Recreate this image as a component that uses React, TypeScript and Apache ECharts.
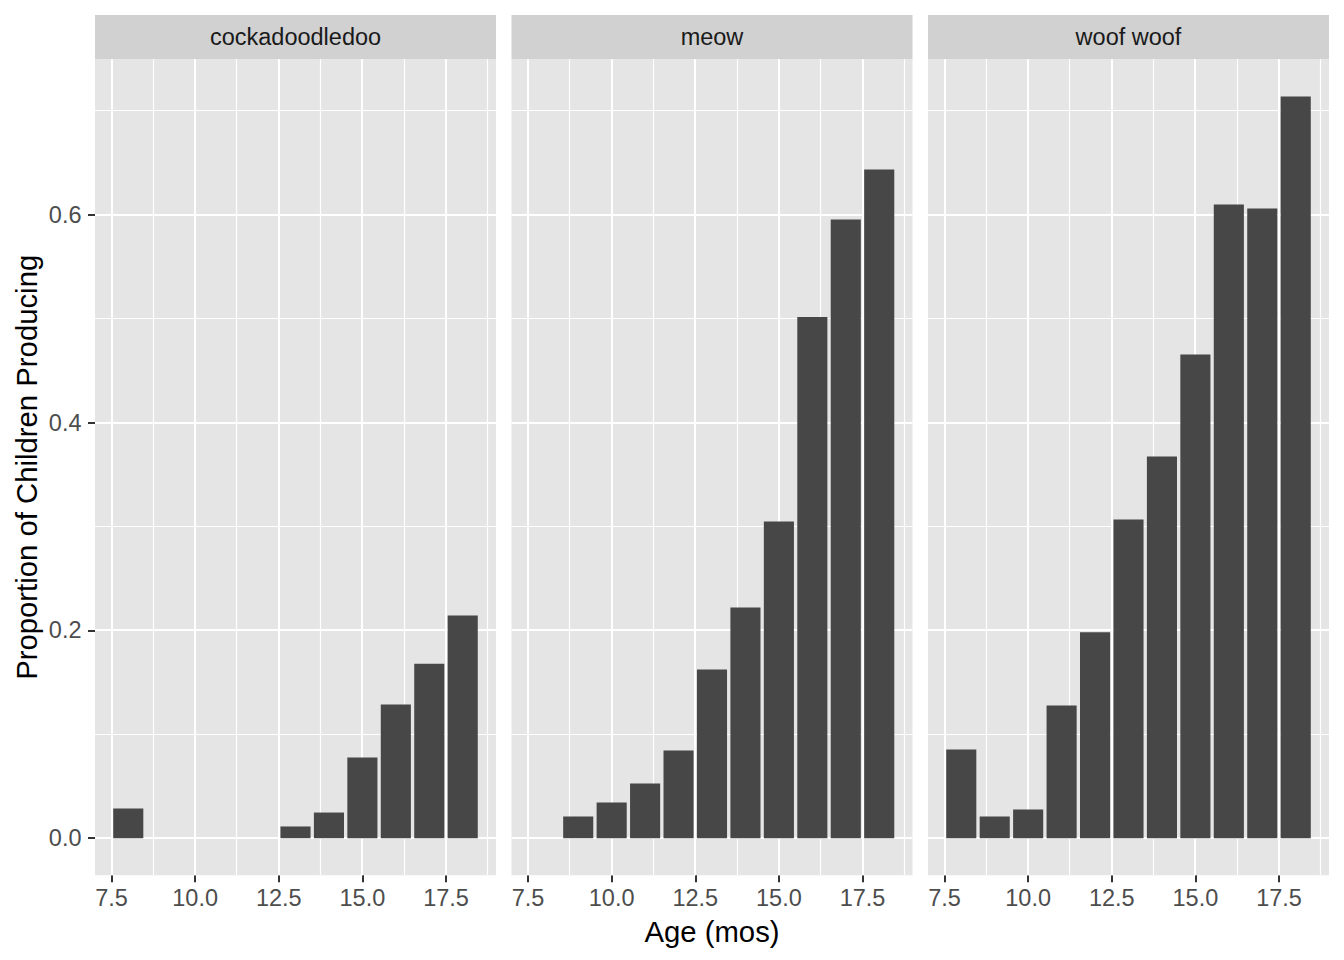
import React, { useEffect, useRef } from "react";
import * as echarts from "echarts";

const facets = ["cockadoodledoo", "meow", "woof woof"];
const ages = [8, 9, 10, 11, 12, 13, 14, 15, 16, 17, 18];
const cockadoodledoo = [0.0286, null, null, null, null, 0.0113, 0.0247, 0.0777, 0.1287, 0.168, 0.2143];
const meow = [null, 0.0209, 0.0344, 0.0526, 0.0845, 0.1624, 0.222, 0.3048, 0.5017, 0.5955, 0.6436];
const woofWoof = [0.0854, 0.0209, 0.0276, 0.1277, 0.1983, 0.3067, 0.3674, 0.4655, 0.6099, 0.606, 0.7139];
const facetValues = [cockadoodledoo, meow, woofWoof];

const xMajorTicks = [7.5, 10, 12.5, 15, 17.5];
const xMinorTicks = [8.75, 11.25, 13.75, 16.25, 18.75];
const yMajorTicks = [0, 0.2, 0.4, 0.6];
const yMinorTicks = [0.1, 0.3, 0.5, 0.7];
const barWidth = 0.9;

const FONT = "'Liberation Sans', Arial, Helvetica, sans-serif";
const PANEL_BG = "#E5E5E5";
const STRIP_BG = "#D1D1D1";
const BAR_FILL = "#474747";

// ggplot-style 5% expansion of the data range
const xLo = ages[0] - barWidth / 2;
const xHi = ages[ages.length - 1] + barWidth / 2;
const xMin = xLo - 0.05 * (xHi - xLo);
const xMax = xHi + 0.05 * (xHi - xLo);
const allVals = facetValues.flat().filter((v) => v != null) as number[];
const yTop = Math.max(...allVals);
const yMin = 0 - 0.05 * yTop;
const yMax = yTop + 0.05 * yTop;

const panelLefts = [95, 511.5, 928];
const panelWidth = 401;
const panelTop = 59.3;
const panelHeight = 816;
const stripTop = 15;

export default function App() {
  const ref = useRef<HTMLDivElement>(null);
  useEffect(() => {
    document.body.style.margin = "0";
    if (!ref.current) return;
    const chart = echarts.init(ref.current, null, { renderer: "svg" });

    const gridData: number[][] = [];
    xMinorTicks.forEach((v) => gridData.push([0, v, 0]));
    yMinorTicks.forEach((v) => gridData.push([1, v, 0]));
    xMajorTicks.forEach((v) => gridData.push([0, v, 1]));
    yMajorTicks.forEach((v) => gridData.push([1, v, 1]));

    const grids = panelLefts.map((left) => ({
      left,
      top: panelTop,
      width: panelWidth,
      height: panelHeight,
      show: true,
      backgroundColor: PANEL_BG,
      borderWidth: 0,
      containLabel: false,
    }));

    const xAxes = facets.map((_, i) => ({
      type: "value",
      gridIndex: i,
      position: "bottom",
      min: xMin,
      max: xMax,
      axisLine: { show: false, onZero: false },
      splitLine: { show: false },
      axisTick: {
        show: true,
        customValues: xMajorTicks,
        length: 7,
        lineStyle: { color: "#333333", width: 2 },
      },
      axisLabel: {
        show: true,
        customValues: xMajorTicks,
        formatter: (v: number) => v.toFixed(1),
        color: "#4D4D4D",
        fontSize: 23.5,
        fontFamily: FONT,
        margin: 11,
      },
      name: i === 1 ? "Age (mos)" : "",
      nameLocation: "middle",
      nameGap: 42,
      nameTextStyle: { color: "#000000", fontSize: 29.3, fontFamily: FONT },
    }));

    const yAxes = facets.map((_, i) => ({
      type: "value",
      gridIndex: i,
      position: "left",
      min: yMin,
      max: yMax,
      axisLine: { show: false, onZero: false },
      splitLine: { show: false },
      axisTick: {
        show: i === 0,
        customValues: yMajorTicks,
        length: 7,
        lineStyle: { color: "#333333", width: 2 },
      },
      axisLabel: {
        show: i === 0,
        customValues: yMajorTicks,
        formatter: (v: number) => v.toFixed(1),
        color: "#4D4D4D",
        fontSize: 23.5,
        fontFamily: FONT,
        margin: 13.5,
      },
      name: i === 0 ? "Proportion of Children Producing" : "",
      nameLocation: "middle",
      nameGap: 54,
      nameTextStyle: { color: "#000000", fontSize: 29.3, fontFamily: FONT },
    }));

    const series: any[] = [];
    facets.forEach((_, i) => {
      series.push({
        type: "custom",
        xAxisIndex: i,
        yAxisIndex: i,
        z: 1,
        silent: true,
        data: gridData,
        renderItem: (params: any, api: any) => {
          const cs = params.coordSys;
          const kind = api.value(0);
          const v = api.value(1);
          const major = api.value(2) === 1;
          const lw = major ? 2 : 1.2;
          const snap = (p: number) => (major ? Math.round(p) : Math.round(p - 0.5) + 0.5);
          if (kind === 0) {
            const x = snap(api.coord([v, 0])[0]);
            return {
              type: "line",
              shape: { x1: x, y1: cs.y, x2: x, y2: cs.y + cs.height },
              style: { stroke: "#FFFFFF", lineWidth: lw },
            };
          }
          const y = snap(api.coord([xMin, v])[1]);
          return {
            type: "line",
            shape: { x1: cs.x, y1: y, x2: cs.x + cs.width, y2: y },
            style: { stroke: "#FFFFFF", lineWidth: lw },
          };
        },
      });
      const vals = facetValues[i];
      series.push({
        type: "custom",
        name: facets[i],
        xAxisIndex: i,
        yAxisIndex: i,
        z: 2,
        data: ages
          .map((a, k) => [a, vals[k]])
          .filter((d) => d[1] != null),
        renderItem: (_p: any, api: any) => {
          const a = api.value(0);
          const v = api.value(1);
          const p1 = api.coord([a - barWidth / 2, v]);
          const p2 = api.coord([a + barWidth / 2, 0]);
          return {
            type: "rect",
            shape: { x: p1[0], y: p1[1], width: p2[0] - p1[0], height: p2[1] - p1[1] },
            style: { fill: BAR_FILL },
          };
        },
      });
    });

    const graphic: any[] = [];
    facets.forEach((f, i) => {
      graphic.push({
        type: "rect",
        x: panelLefts[i],
        y: stripTop,
        shape: { x: 0, y: 0, width: panelWidth, height: panelTop - stripTop },
        style: { fill: STRIP_BG },
        silent: true,
      });
      graphic.push({
        type: "text",
        x: panelLefts[i] + panelWidth / 2,
        y: (stripTop + panelTop) / 2,
        style: {
          text: f,
          fill: "#1A1A1A",
          fontSize: 23.5,
          fontFamily: FONT,
          textAlign: "center",
          textVerticalAlign: "middle",
        },
        silent: true,
      });
    });

    chart.setOption({
      animation: false,
      backgroundColor: "#FFFFFF",
      textStyle: { fontFamily: FONT },
      grid: grids,
      xAxis: xAxes,
      yAxis: yAxes,
      series,
      graphic,
    });
    return () => chart.dispose();
  }, []);
  return <div ref={ref} style={{ width: 1344, height: 960 }} />;
}
